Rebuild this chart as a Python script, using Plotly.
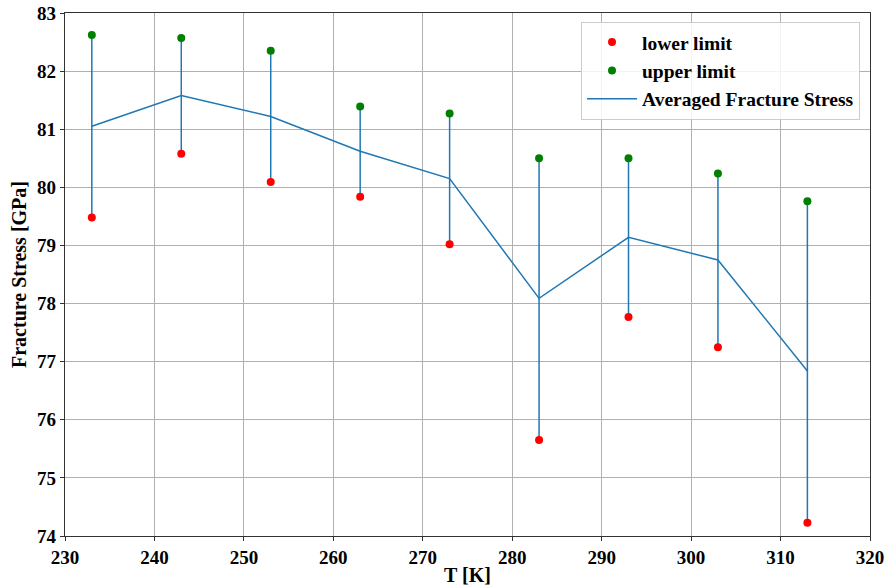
import plotly.graph_objects as go

T = [233, 243, 253, 263, 273, 283, 293, 303, 313]
upper = [82.62, 82.57, 82.35, 81.39, 81.27, 80.50, 80.50, 80.24, 79.76]
lower = [79.48, 80.58, 80.09, 79.84, 79.02, 75.65, 77.77, 77.25, 74.23]
avg = [81.05, 81.58, 81.22, 80.62, 80.15, 78.09, 79.14, 78.75, 76.84]

err_plus = [u - a for u, a in zip(upper, avg)]
err_minus = [a - l for a, l in zip(avg, lower)]

font_family = "Liberation Serif, Times New Roman, serif"

fig = go.Figure()
fig.add_trace(go.Scatter(
    x=T, y=avg, mode="lines", name="Averaged Fracture Stress", legendrank=3,
    line=dict(color="#1f77b4", width=1.5),
    error_y=dict(type="data", symmetric=False, array=err_plus, arrayminus=err_minus,
                 color="#1f77b4", thickness=1.5, width=0),
))
fig.add_trace(go.Scatter(
    x=T, y=lower, mode="markers", name="lower limit", legendrank=1,
    marker=dict(color="red", size=8),
))
fig.add_trace(go.Scatter(
    x=T, y=upper, mode="markers", name="upper limit", legendrank=2,
    marker=dict(color="green", size=8),
))

axis_common = dict(
    showgrid=True, gridcolor="#b0b0b0", gridwidth=1,
    showline=True, linecolor="#333333", linewidth=1.2, mirror=True,
    ticks="outside", ticklen=4, tickcolor="#333333",
    tickfont=dict(family=font_family, size=19, color="black", weight="bold"),
    zeroline=False, automargin=False, ticklabeloverflow="allow",
)

fig.update_layout(
    width=885, height=587,
    margin=dict(l=65, r=15, t=13, b=51),
    plot_bgcolor="white", paper_bgcolor="white",
    font=dict(family=font_family, color="black", weight="bold"),
    xaxis=dict(range=[230, 320], dtick=10, tick0=230,
               title=dict(text="T [K]", font=dict(size=20, family=font_family, weight="bold"), standoff=1),
               **axis_common),
    yaxis=dict(range=[74, 83], dtick=1, tick0=74,
               title=dict(text="Fracture Stress [GPa]", font=dict(size=20, family=font_family, weight="bold"), standoff=5),
               **axis_common),
    legend=dict(
        x=0.9876, y=0.983, xanchor="right", yanchor="top",
        bgcolor="rgba(255,255,255,0.85)", bordercolor="#cccccc", borderwidth=1,
        font=dict(family=font_family, size=19.5, color="black", weight="bold"),
        traceorder="normal", tracegroupgap=0, itemwidth=50,
    ),
    showlegend=True,
)

fig.write_html("out.html",
               config={"displayModeBar": False},
               post_script="document.body.style.margin='0';document.body.style.overflow='hidden';")
